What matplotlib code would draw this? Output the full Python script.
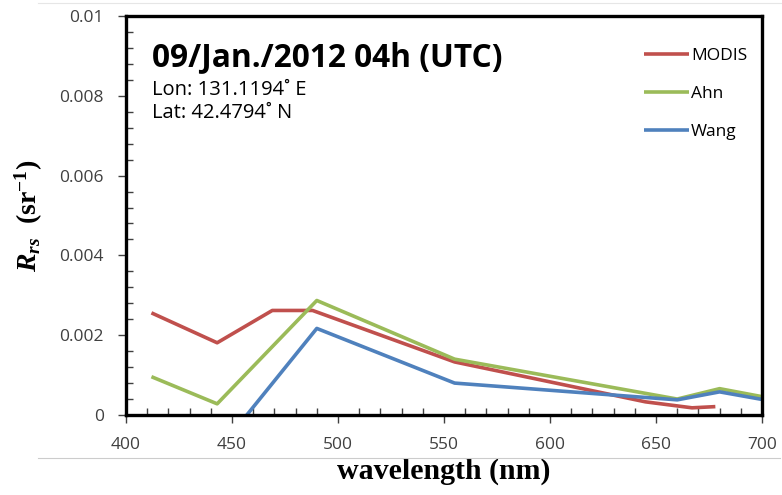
import matplotlib
matplotlib.use("Agg")
import matplotlib.pyplot as plt
from matplotlib.lines import Line2D
from matplotlib.ticker import MultipleLocator

##################
## Rrs SPECTRA  ##
##################
modis_wl = [412, 443, 469, 488, 555, 645, 667, 678]
modis_rrs = [0.00256, 0.00181, 0.00262, 0.00262, 0.00133, 0.00033, 0.00018, 0.00021]

ahn_wl = [412, 443, 490, 555, 660, 680, 700]
ahn_rrs = [0.00096, 0.00028, 0.00287, 0.00140, 0.00040, 0.00066, 0.00046]

wang_wl = [443, 490, 555, 660, 680, 700]
wang_rrs = [-0.00092, 0.00217, 0.00080, 0.00038, 0.00058, 0.00039]

series_names = ["MODIS", "Ahn", "Wang"]
series_colors = ["#C0504D", "#9BBB59", "#4F81BD"]

title_text = "09/Jan./2012 04h (UTC)"
lon_text = "Lon: 131.1194˚ E"
lat_text = "Lat: 42.4794˚ N"

sans = ["Open Sans", "DejaVu Sans"]
serif = ["Liberation Serif", "DejaVu Serif"]

plt.rcParams["mathtext.fontset"] = "custom"
plt.rcParams["mathtext.rm"] = "Liberation Serif:bold"
plt.rcParams["mathtext.it"] = "Liberation Serif:italic:bold"
plt.rcParams["mathtext.bf"] = "Liberation Serif:bold"

fig = plt.figure(figsize=(7.82, 4.95), dpi=100)
ax = fig.add_axes([126 / 782, 80 / 495, 636 / 782, 399 / 495])

for wl, rrs, name, col in zip([modis_wl, ahn_wl, wang_wl],
                              [modis_rrs, ahn_rrs, wang_rrs],
                              series_names, series_colors):
    ax.plot(wl, rrs, color=col, lw=2.6, label=name, solid_capstyle="butt")

ax.set_xlim(400, 700)
ax.set_ylim(0, 0.01)

ax.xaxis.set_major_locator(MultipleLocator(50))
ax.xaxis.set_minor_locator(MultipleLocator(10))
ax.yaxis.set_minor_locator(MultipleLocator(0.0004))
ax.set_yticks([0, 0.002, 0.004, 0.006, 0.008, 0.01])
ax.set_yticklabels(["0", "0.002", "0.004", "0.006", "0.008", "0.01"])

ax.tick_params(which="major", direction="out", length=6, width=1, color="#404040",
               labelsize=12.5, labelcolor="#404040")
ax.tick_params(which="minor", direction="in", length=5, width=1, color="#404040")
ax.tick_params(axis="y", which="major", pad=10)
ax.tick_params(axis="x", which="major", pad=10)
for lbl in ax.get_xticklabels() + ax.get_yticklabels():
    lbl.set_family(sans)

for sp in ax.spines.values():
    sp.set_linewidth(2.4)
    sp.set_color("black")

ax.set_xlabel("wavelength (nm)", family=serif, weight="bold", fontsize=21.5, labelpad=3)
ax.set_ylabel(r"$R_{rs}$  (sr$^{-1}$)", family=serif,
              weight="bold", fontsize=20, labelpad=10)

# date / position annotation
ax.text(0.041, 0.895, title_text, transform=ax.transAxes, family=sans, weight="bold",
        fontsize=22.8, ha="left", va="center")
ax.text(0.041, 0.815, lon_text, transform=ax.transAxes, family=sans, fontsize=14.5,
        ha="left", va="center")
ax.text(0.041, 0.757, lat_text, transform=ax.transAxes, family=sans, fontsize=14.5,
        ha="left", va="center")

leg = ax.legend(loc="upper right", bbox_to_anchor=(0.988, 0.937), frameon=False,
                prop={"family": sans, "size": 12.5}, handlelength=2.55,
                handletextpad=0.15, labelspacing=1.25, borderaxespad=0)

# faint chart-area border lines
fig.add_artist(Line2D([38 / 782, 1], [1 - 3 / 495] * 2, color="#e6e6e6", lw=0.8))
fig.add_artist(Line2D([38 / 782, 780 / 782], [1 - 458 / 495] * 2, color="#cccccc", lw=0.8))

fig.savefig("out.png", dpi=100)
